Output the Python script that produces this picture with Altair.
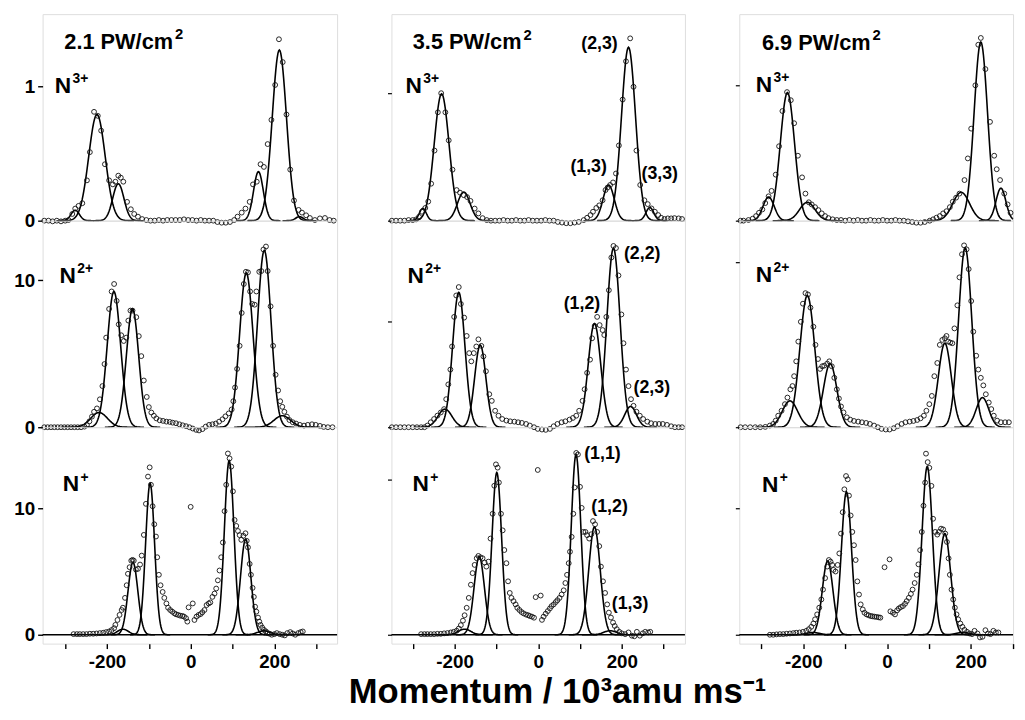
import altair as alt
import numpy as np
import pandas as pd

FONT = "Liberation Sans"

# ---------------- data circles (momentum in 10^3 amu m/s, yield) ----------------
# column 1 : 2.1 PW/cm2
C1R1_X = [-350,-340,-330,-320,-310,-300,-292,-283,-276,-268,-259,-248,-241,-231,-222,-214,-205,-195,-186,-180,-173,-167,-161,-152,-143,-135,-126,-116,-106,-96,-86,-76,-66,-56,-46,-36,-26,-16,-6,4,14,24,34,44,54,64,74,84,94,104,112,122,131,141,149,158,167,175,184,193,202,211,220,229,238,247,258,266,276,285,297,309,321,332,342]
C1R1_Y = [0,0,-0.005,0,-0.005,0,0.005,0.05,0.09,0.11,0.13,0.30,0.51,0.81,0.78,0.67,0.42,0.30,0.27,0.29,0.335,0.32,0.29,0.14,0.085,0.05,0.03,0.012,0.005,0,0,0.005,0,0.005,0.005,0.005,0.005,0.01,0.005,0.005,0,0.005,0,0,0,-0.01,-0.015,-0.015,-0.01,0.005,0.03,0.06,0.09,0.14,0.27,0.29,0.42,0.40,0.57,0.75,1.01,1.35,1.18,0.79,0.38,0.15,0.08,0.06,0.04,0.02,0.005,0.017,0.02,0.005,0]

C1R2_X = [-350,-342,-334,-326,-318,-310,-302,-294,-286,-278,-270,-262,-254,-248,-242,-236,-231,-224,-217,-211,-206,-202,-195,-189,-183,-177,-172,-166,-160,-154,-149,-144,-139,-130,-124,-118,-112,-105,-100,-94,-88,-82,-74,-66,-58,-50,-43,-35,-27,-19,-11,-3,5,13,20,28,36,44,52,60,68,76,83,91,98,102,106,111,117,122,127,132,137,142,147,153,157,164,169,174,180,184,191,197,203,209,214,219,224,230,236,244,252,261,271,280,290,299,309,318,328,339]
C1R2_Y = [0,0,0,0,0,0,0,0,0,0,0,0,0.04,0.15,0.4,0.72,1.05,1.28,1.9,2.8,4.3,6.1,8.05,9.24,9.75,8.6,7.0,6.26,5.87,6.1,7.26,7.94,7.94,7.49,6.2,4.84,3.18,2.06,1.37,1.0,0.78,0.6,0.47,0.43,0.38,0.36,0.31,0.27,0.2,0.13,0.07,0.0,-0.09,-0.18,-0.22,-0.13,0.04,0.16,0.2,0.25,0.38,0.54,0.74,0.94,1.21,1.77,2.7,3.97,5.54,7.78,9.75,10.58,10.54,9.24,8.39,8.34,9.24,10.58,10.63,12.1,12.3,10.63,8.23,5.54,3.57,2.5,1.77,1.39,1.05,0.72,0.49,0.34,0.25,0.16,0.11,0.16,0.2,0.16,0.09,0.02,0.0,0.0]

C1R3_X = [-280,-272,-265,-257,-249,-241,-233,-225,-217,-209,-202,-195,-189,-183,-180,-175,-170,-165,-162,-157,-153,-150,-146,-142,-139,-136,-131,-126,-121,-117,-112,-107,-102,-98,-95,-91,-87,-83,-80,-76,-72,-67,-63,-58,-54,-49,-44,-39,-35,-30,-25,-20,-16,-11,-8,-5,0,5,9,14,19,24,28,33,38,43,47,52,57,61,65,69,73,77,81,85,89,93,97,101,105,109,113,117,121,126,131,134,137,141,144,148,151,154,157,161,164,167,171,175,180,184,189,194,200,206,213,219,225,231,238,244,250,257,263,268]
C1R3_Y = [0.05,0.05,0.05,0.05,0.05,0.08,0.08,0.1,0.13,0.16,0.21,0.26,0.37,0.52,0.78,1.17,1.57,1.96,2.14,2.92,3.92,4.83,5.35,5.87,5.93,5.87,5.17,5.22,5.56,6.27,7.91,10.37,12.53,13.26,11.88,10.18,8.75,7.78,6.14,4.75,3.92,3.39,2.92,2.48,2.14,1.96,1.83,1.7,1.62,1.57,1.51,1.49,1.44,1.31,1.04,2.17,10.13,2.48,1.17,1.44,1.57,1.64,1.78,1.96,2.35,2.48,2.56,3.0,3.26,3.66,4.31,5.09,6.14,7.31,9.79,11.88,14.36,13.97,13.32,11.36,9.09,8.62,8.22,7.89,7.52,7.84,8.04,7.44,6.92,5.61,4.75,3.71,3.0,2.22,1.83,1.36,1.04,0.78,0.57,0.39,0.26,0.13,0.08,0.0,0.05,0.13,0.05,0.0,-0.05,0.13,0.21,0.1,0.0,0.13,0.21,0.26]

# column 2 : 3.5 PW/cm2
C2R1_X = [-350,-340,-330,-320,-310,-300,-292,-285,-278,-270,-263,-256,-248,-240,-232,-222,-214,-205,-195,-187,-178,-170,-162,-152,-143,-133,-123,-113,-103,-93,-83,-73,-63,-53,-43,-33,-23,-13,-3,7,17,27,37,47,57,67,77,87,97,109,117,125,131,139,146,154,161,166,172,179,186,193,202,210,220,228,235,244,254,262,271,279,287,294,302,310,318,326,336,344]
C2R1_Y = [0,0,0,0,0.005,0.005,0.01,0.03,0.07,0.1,0.15,0.29,0.55,0.85,1.0,0.85,0.63,0.4,0.24,0.22,0.2,0.185,0.155,0.095,0.057,0.02,0.005,0,0,0,0.005,0,0,0.005,0,0,0.005,0,0,0,0.005,0,0,-0.01,-0.015,-0.02,-0.02,-0.015,-0.01,0.005,0.023,0.044,0.07,0.1,0.12,0.16,0.24,0.26,0.28,0.30,0.37,0.59,0.95,1.25,1.43,1.05,0.55,0.28,0.16,0.13,0.096,0.07,0.044,0.023,0.013,0.018,0.018,0.02,0.018,0.013]

C2R2_X = [-350,-340,-330,-320,-310,-300,-290,-280,-272,-265,-257,-249,-241,-233,-225,-220,-215,-210,-206,-201,-196,-190,-185,-177,-171,-165,-160,-154,-148,-143,-136,-131,-125,-117,-111,-103,-95,-86,-76,-67,-57,-48,-39,-29,-20,-10,-1,9,18,28,37,46,56,65,75,83,91,98,106,111,117,124,129,135,141,147,154,158,163,169,175,180,186,192,199,204,210,216,222,228,235,243,251,261,270,280,289,298,308,318,327,336,344]
C2R2_Y = [0,0,0,0,0,0,0,0,0,0.16,0.47,0.78,1.1,1.4,1.72,2.66,4.06,5.47,7.66,10.47,12.5,13.3,11.7,10.4,8.66,7.03,6.25,7.03,7.66,8.34,7.72,6.72,5.31,3.13,2.5,1.56,1.09,0.78,0.63,0.56,0.53,0.47,0.41,0.31,0.16,0.0,-0.16,-0.22,-0.25,-0.16,0.09,0.31,0.47,0.56,0.72,0.88,1.09,1.56,2.5,3.6,5.16,6.41,8.44,9.6,10.47,9.69,9.22,8.75,10.47,13.0,16.1,17.2,17.0,14.4,10.7,7.97,5.47,3.9,2.66,2.03,1.47,1.09,0.78,0.53,0.38,0.31,0.31,0.31,0.22,0.09,0.0,0.0,0.0]

C2R3_X = [-280,-272,-265,-257,-249,-241,-233,-225,-217,-209,-202,-195,-190,-185,-180,-176,-171,-166,-161,-157,-152,-147,-143,-138,-133,-128,-124,-119,-114,-109,-105,-101,-97,-94,-89,-85,-81,-76,-72,-68,-64,-59,-54,-50,-45,-40,-35,-29,-24,-20,-15,-10,-6,-1,6,9,13,18,23,28,32,37,42,46,51,56,61,65,69,73,76,80,84,87,91,95,100,104,108,113,117,122,127,131,136,141,146,150,155,160,165,169,174,179,183,188,194,200,208,216,224,230,236,243,250,256,263,268]
C2R3_Y = [0.04,0.04,0.04,0.04,0.04,0.06,0.06,0.09,0.11,0.15,0.19,0.26,0.4,0.62,0.91,1.26,1.74,2.38,3.23,3.98,4.51,4.94,5.09,5.0,4.94,4.66,4.4,4.72,6.21,7.81,9.62,11.0,10.79,9.83,7.81,6.74,5.47,4.62,3.45,2.7,2.38,2.17,1.96,1.74,1.6,1.47,1.38,1.3,1.26,1.21,1.17,1.1,2.43,10.64,2.53,0.96,1.17,1.36,1.53,1.7,1.85,1.96,2.11,2.23,2.38,2.6,2.87,3.34,3.87,4.62,5.36,6.32,7.81,9.51,11.74,11.64,9.55,8.19,6.64,6.64,6.43,6.21,6.49,7.34,7.13,6.64,5.72,4.4,3.45,2.7,1.96,1.43,1.11,0.79,0.57,0.36,0.19,0.09,0.04,0.15,-0.06,-0.1,0.19,-0.06,0.09,0.19,0.15,0.19]

# column 3 : 6.9 PW/cm2
C3R1_X = [-350,-343,-331,-321,-313,-306,-298,-291,-283,-276,-266,-258,-250,-239,-230,-222,-213,-203,-195,-187,-180,-172,-164,-156,-148,-140,-130,-120,-110,-100,-90,-80,-70,-60,-50,-40,-30,-20,-10,0,10,20,30,40,50,60,70,80,90,102,110,118,126,134,142,150,157,165,173,185,193,201,211,218,224,235,246,256,262,270,280,288,295]
C3R1_Y = [0,0,0.005,0.015,0.034,0.058,0.083,0.13,0.18,0.22,0.34,0.55,0.81,0.95,0.89,0.72,0.48,0.32,0.2,0.136,0.12,0.1,0.078,0.054,0.034,0.019,0.01,0.005,0.005,0,0.005,0,0.005,0,0,0.005,0,0,0.005,0,0,0.005,0,0,-0.005,-0.01,-0.015,-0.015,-0.01,0,0.01,0.022,0.034,0.054,0.07,0.1,0.14,0.17,0.2,0.3,0.46,0.68,1.0,1.3,1.35,1.12,0.73,0.48,0.38,0.3,0.2,0.12,0.058]

C3R2_X = [-350,-339,-327,-315,-303,-291,-280,-272,-266,-260,-252,-244,-238,-231,-226,-222,-217,-212,-206,-201,-195,-189,-183,-176,-171,-165,-160,-155,-150,-143,-138,-132,-126,-120,-115,-110,-104,-96,-88,-79,-69,-60,-50,-41,-31,-22,-13,-3,6,16,25,35,44,54,63,72,80,88,94,101,107,113,120,126,132,138,142,146,151,156,161,168,173,179,184,190,195,201,206,213,218,224,230,236,243,249,255,263,272,282,291]
C3R2_Y = [0,0,0,0,0,0.02,0.1,0.2,0.4,0.7,1.0,1.4,1.8,2.3,2.5,3.1,4.0,5.2,6.4,7.5,8.14,8.06,7.26,6.1,5.0,4.14,3.54,3.7,3.74,3.86,4.0,3.7,3.0,2.3,1.74,1.26,0.9,0.6,0.46,0.38,0.34,0.3,0.26,0.2,0.1,0.0,-0.1,-0.14,-0.14,-0.06,0.06,0.2,0.3,0.34,0.38,0.44,0.54,0.7,1.0,1.4,1.9,3.1,3.9,5.0,5.3,5.4,5.54,5.2,5.14,5.1,6.0,7.4,9.1,10.5,11.04,10.8,9.6,7.66,5.8,4.34,3.5,3.0,2.54,2.0,1.5,1.1,0.7,0.4,0.3,0.3,0.3]

C3R3_X = [-280,-272,-264,-256,-248,-240,-232,-224,-217,-209,-201,-193,-187,-181,-176,-172,-167,-162,-157,-153,-148,-143,-139,-135,-131,-128,-123,-118,-114,-110,-106,-102,-98,-94,-91,-87,-83,-79,-75,-71,-67,-63,-58,-54,-49,-44,-39,-35,-30,-25,-20,-16,-6,6,8,14,19,24,28,33,38,43,47,52,57,61,66,71,75,79,83,87,91,93,97,101,106,110,115,120,124,129,134,139,143,147,150,154,158,162,166,170,175,180,185,191,197,203,209,216,222,228,235,241,247,254,260,266]
C3R3_Y = [0.0,0.0,0.03,0.05,0.05,0.08,0.1,0.13,0.16,0.18,0.23,0.31,0.44,0.63,0.89,1.22,1.61,2.14,2.79,3.57,4.48,5.39,5.91,5.78,5.52,5.13,5.0,5.52,6.43,8.0,9.69,11.5,12.55,12.29,11.0,9.43,8.13,7.08,5.91,4.22,3.18,2.4,2.0,1.74,1.61,1.54,1.48,1.46,1.43,1.41,1.38,1.35,5.34,5.96,1.85,1.74,1.61,1.93,2.08,2.19,2.27,2.45,2.66,2.92,3.23,3.57,4.09,4.74,5.57,6.69,8.13,10.2,12.03,14.32,13.65,13.2,11.77,9.17,8.13,7.92,8.13,8.39,8.33,8.0,7.34,6.04,4.74,3.57,2.79,2.14,1.61,1.22,0.89,0.63,0.39,0.23,0.1,0.05,0.31,0.1,-0.21,-0.16,0.36,0.1,0.05,0.31,0.18,0.18]

# ---------------- fitted peaks: centre, height, width (sigma) ----------------
C1R1_FC = [-276,-224,-173,162,212,260];       C1R1_FA = [0.078,0.79,0.275,0.365,1.27,0.03];   C1R1_FS = [10,19.7,13.4,11.7,17,9]
C1R2_FC = [-219,-183.5,-139,133,176,219];     C1R2_FA = [1.0,9.24,8.05,10.5,12.04,0.78];      C1R2_FS = [20,16,14.7,16,16,20]
C1R3_FC = [-162,-138,-97,92,131.5,175];       C1R3_FA = [0.44,5.74,12.0,13.8,7.57,0.31];      C1R3_FS = [13,11.7,10.7,11.4,12.4,15]
C2R1_FC = [-276,-231,-178,168.5,216,267];     C2R1_FA = [0.096,0.995,0.225,0.28,1.36,0.103];  C2R1_FS = [8.4,17.7,15,13.4,16.7,9.4]
C2R2_FC = [-223,-190,-138.6,134.6,180,221];   C2R2_FA = [1.72,12.8,7.8,9.84,17.0,1.97];       C2R2_FS = [16.7,14.7,13.4,15,15.7,14]
C2R3_FC = [-176,-141,-99,90.5,134.6,172];     C2R3_FA = [0.36,5.04,10.47,11.64,6.96,0.26];    C2R3_FS = [15,12.4,11.4,11.4,13.7,15]
C3R1_FC = [-283,-238,-190.5,177,224,272];     C3R1_FA = [0.175,0.946,0.136,0.21,1.32,0.24];   C3R1_FS = [13.4,17,18.4,20,16,11.7]
C3R2_FC = [-232,-190.5,-136,138,186.6,228];   C3R2_FA = [1.6,8.0,3.86,5.1,10.9,1.8];          C3R2_FS = [18.4,17.7,16,15.4,15.7,15]
C3R3_FC = [-177,-142,-97,96,138,181];         C3R3_FA = [0.18,5.83,11.3,13.3,8.0,0.18];       C3R3_FS = [15,12.7,12,12.4,14,15]

# ---------------- text ----------------
INTENSITY = ["2.1 PW/cm", "3.5 PW/cm", "6.9 PW/cm"]
ION_CHARGE = ["3+", "2+", "+"]
PAIR_LABELS = [["(2,3)", "(1,3)", "(3,3)"], ["(2,2)", "(1,2)", "(2,3)"], ["(1,1)", "(1,2)", "(1,3)"]]
X_TICKS = [-300, -200, -100, 0, 100, 200, 300]
Y_TICKS = [[0, 1], [0, 10], [0, 10]]
X_TITLE = "Momentum / 10³amu ms⁻¹"

# ---------------- layout / placement ----------------
XDOM = [[-354, 350], [-351, 351], [-353, 301]]
WIDTH = [298, 297, 277]
HEIGHT = [209, 209, 219]
YDOM = [
    [[0, 1.537], [0, 14.06], [-0.705, 16.44]],
    [[0, 1.62], [0, 19.6], [-0.574, 13.40]],
    [[0, 1.526], [0, 12.54], [-0.703, 16.41]],
]
TITLE_POS = [(-302, 1.28), (-300, 1.343), (-299, 1.263)]
ION_POS = [
    [(-325, 0.951), (-313.5, 9.8), (-306, 11.35)],
    [(-317.6, 1.005), (-312.5, 13.65), (-300.7, 9.25)],
    [(-313.7, 0.954), (-313.7, 8.8), (-299, 11.3)],
]
PAIR_POS = [[(103, 1.349), (77, 0.38), (247, 0.328)],
            [(205, 15.93), (61, 11.22), (228, 3.28)],
            [(110, 11.38), (127, 7.91), (176, 1.66)]]

DATA = {
    (0, 0): (C1R1_X, C1R1_Y, C1R1_FC, C1R1_FA, C1R1_FS),
    (0, 1): (C1R2_X, C1R2_Y, C1R2_FC, C1R2_FA, C1R2_FS),
    (0, 2): (C1R3_X, C1R3_Y, C1R3_FC, C1R3_FA, C1R3_FS),
    (1, 0): (C2R1_X, C2R1_Y, C2R1_FC, C2R1_FA, C2R1_FS),
    (1, 1): (C2R2_X, C2R2_Y, C2R2_FC, C2R2_FA, C2R2_FS),
    (1, 2): (C2R3_X, C2R3_Y, C2R3_FC, C2R3_FA, C2R3_FS),
    (2, 0): (C3R1_X, C3R1_Y, C3R1_FC, C3R1_FA, C3R1_FS),
    (2, 1): (C3R2_X, C3R2_Y, C3R2_FC, C3R2_FA, C3R2_FS),
    (2, 2): (C3R3_X, C3R3_Y, C3R3_FC, C3R3_FA, C3R3_FS),
}


def fit_frame(cs, amps, sigmas, xmax):
    frames = []
    for k, (c, a, s) in enumerate(zip(cs, amps, sigmas)):
        xs = np.linspace(c - 4.5 * s, min(c + 4.5 * s, xmax), 91)
        frames.append(pd.DataFrame({"x": xs, "y": a * np.exp(-0.5 * ((xs - c) / s) ** 2), "k": k}))
    return pd.concat(frames, ignore_index=True)


def panel(ci, ri):
    X, Y, FC, FA, FS = DATA[(ci, ri)]
    xs = alt.Scale(domain=XDOM[ci], nice=False, zero=False)
    ys = alt.Scale(domain=YDOM[ci][ri], nice=False, zero=False)
    if ri == 2:
        xaxis = alt.Axis(values=X_TICKS, title=None, grid=False, domain=False,
                         tickSize=5, tickWidth=1.4, tickColor="black",
                         labelExpr="datum.value % 200 == 0 ? (datum.value < 0 ? '-' + abs(datum.value) : '' + datum.value) : ''",
                         labelFont=FONT, labelFontSize=19, labelFontWeight="bold", labelColor="black",
                         labelPadding=4, labelFlush=False, labelOverlap=False)
    else:
        xaxis = None
    if ci == 0:
        yaxis = alt.Axis(values=Y_TICKS[ri], title=None, grid=False, domain=False,
                         tickSize=5, tickWidth=1.4, tickColor="black",
                         labelFont=FONT, labelFontSize=19, labelFontWeight="bold", labelColor="black",
                         labelPadding=3, labelFlush=False, labelOverlap=False)
    else:
        yaxis = alt.Axis(values=Y_TICKS[ri], title=None, grid=False, domain=False, labels=False,
                         tickSize=4, tickWidth=1.2, tickColor="black")
    xe = alt.X("x:Q", scale=xs, axis=xaxis)
    ye = alt.Y("y:Q", scale=ys, axis=yaxis)

    layers = []
    if ri == 2:
        layers.append(alt.Chart(pd.DataFrame({"y": [0]})).mark_rule(color="black", strokeWidth=1.3)
                      .encode(y=ye))
    layers.append(alt.Chart(fit_frame(FC, FA, FS, XDOM[ci][1])).mark_line(color="black", strokeWidth=1.6)
                  .encode(x=xe, y=ye, detail="k:N"))
    layers.append(alt.Chart(pd.DataFrame({"x": X, "y": Y}))
                  .mark_point(shape="circle", filled=False, size=24, color="#111", strokeWidth=0.9, opacity=1)
                  .encode(x=xe, y=ye))
    ix, iy = ION_POS[ci][ri]
    ion = pd.DataFrame({"x": [ix], "y": [iy], "t": ["N"], "s": [ION_CHARGE[ri]]})
    layers.append(alt.Chart(ion).mark_text(align="left", baseline="alphabetic", font=FONT, fontSize=23,
                                           fontWeight="bold", color="black")
                  .encode(x=xe, y=ye, text="t:N"))
    layers.append(alt.Chart(ion).mark_text(align="left", baseline="alphabetic", font=FONT, fontSize=14,
                                           fontWeight="bold", color="black", dx=18, dy=-10)
                  .encode(x=xe, y=ye, text="s:N"))
    if ri == 0:
        tx, ty = TITLE_POS[ci]
        tt = pd.DataFrame({"x": [tx], "y": [ty], "t": [INTENSITY[ci]], "s": ["2"]})
        layers.append(alt.Chart(tt).mark_text(align="left", baseline="alphabetic", font=FONT, fontSize=22,
                                              fontWeight="bold", color="black")
                      .encode(x=xe, y=ye, text="t:N"))
        layers.append(alt.Chart(tt).mark_text(align="left", baseline="alphabetic", font=FONT, fontSize=15,
                                              fontWeight="bold", color="black", dx=112, dy=-10)
                      .encode(x=xe, y=ye, text="s:N"))
    if ci == 1:
        pp = pd.DataFrame({"x": [p[0] for p in PAIR_POS[ri]], "y": [p[1] for p in PAIR_POS[ri]],
                           "t": PAIR_LABELS[ri]})
        layers.append(alt.Chart(pp).mark_text(align="left", baseline="alphabetic", font=FONT, fontSize=18,
                                              fontWeight="bold", color="black")
                      .encode(x=xe, y=ye, text="t:N"))
    return alt.layer(*layers).properties(width=WIDTH[ci], height=HEIGHT[ri])


columns = [alt.vconcat(*[panel(ci, ri) for ri in range(3)], spacing=0, bounds="flush") for ci in range(3)]

chart = alt.hconcat(*columns, spacing=47).properties(
    title=alt.TitleParams(X_TITLE, orient="bottom", anchor="middle", baseline="alphabetic", font=FONT,
                          fontSize=35, fontWeight="bold", color="black", offset=32, dx=43),
    padding={"left": 5, "top": 1, "right": 0, "bottom": 0},
).configure_view(stroke="black", strokeWidth=1.3).configure(background="white")

chart.save("out.html", embed_options={"renderer": "svg", "actions": False})
